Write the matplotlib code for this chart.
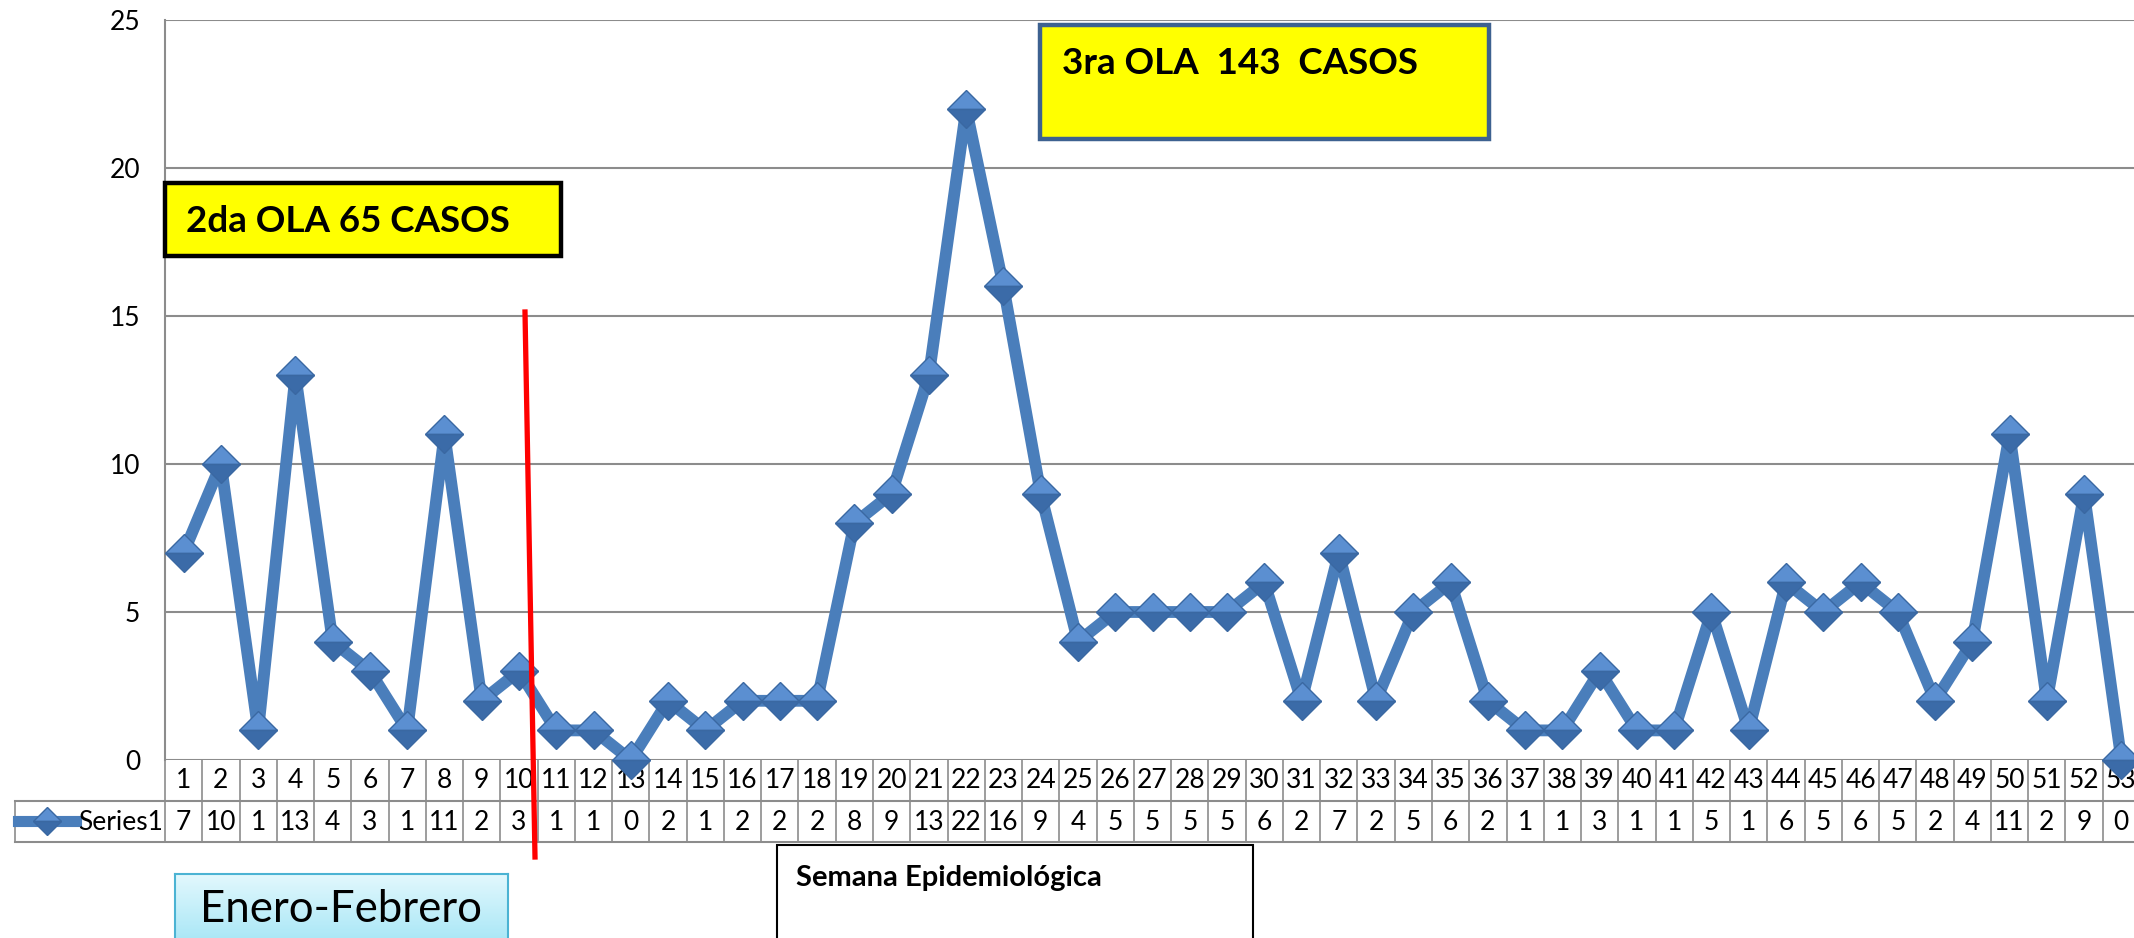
"""
Casos por semana epidemiológica - recreación del gráfico de Excel
"""

import numpy as np
import matplotlib.pyplot as plt
import matplotlib.transforms as mtransforms
from matplotlib.colors import LinearSegmentedColormap
from matplotlib.lines import Line2D
from matplotlib.patches import Rectangle

plt.rcParams['font.family'] = ['Lato', 'DejaVu Sans']

# datos
semanas = list(range(1, 54))
casos = [7, 10, 1, 13, 4, 3, 1, 11, 2, 3, 1, 1, 0, 2, 1, 2, 2, 2, 8, 9, 13, 22, 16, 9,
         4, 5, 5, 5, 5, 6, 2, 7, 2, 5, 6, 2, 1, 1, 3, 1, 1, 5, 1, 6, 5, 6, 5, 2, 4, 11,
         2, 9, 0]
y_ticks = [0, 5, 10, 15, 20, 25]
serie = 'Series1'
ola2 = '2da OLA 65 CASOS'
ola3 = '3ra OLA  143  CASOS'
eje_x = 'Semana Epidemiológica'
periodo = 'Enero-Febrero'

AZUL = '#4a7ebb'
GRIS = '#8c8c8c'

W, H = 2134, 938
fig = plt.figure(figsize=(W / 100, H / 100), dpi=100)


def fx(px):
    return px / W


def fy(py):
    return 1 - py / H


ax = fig.add_axes([fx(165), fy(760), fx(2140) - fx(165), fy(20) - fy(760)])
ax.set_xlim(0.5, len(semanas) + 0.5)
ax.set_ylim(0, 25)
ax.set_yticks(y_ticks)
ax.grid(axis='y', color=GRIS, lw=1.5)
ax.set_axisbelow(True)
for s in ['top', 'right', 'bottom']:
    ax.spines[s].set_visible(False)
ax.spines['left'].set_color(GRIS)
ax.spines['left'].set_linewidth(1.5)
ax.tick_params(axis='y', length=0, pad=18, labelsize=19)
ax.tick_params(axis='x', bottom=False, labelbottom=False)

# serie principal
ax.plot(semanas, casos, color=AZUL, lw=8.5, marker='D', ms=19,
        fillstyle='top', mfc='#5b8fd1', mfcalt='#3b6ba8', mec='#3a68a2', mew=1,
        clip_on=False, zorder=5)

# tabla de datos debajo del gráfico
trans = mtransforms.blended_transform_factory(ax.transData, fig.transFigure)
y_top, y_mid, y_bot = fy(760), fy(801), fy(842)
for k in range(len(semanas) + 1):
    ax.add_line(Line2D([k + 0.5, k + 0.5], [y_top, y_bot], transform=trans,
                       color=GRIS, lw=1.2, clip_on=False, zorder=1))
for yy in [y_mid, y_bot]:
    ax.add_line(Line2D([fx(15), fx(2140)], [yy, yy], transform=fig.transFigure,
                       color=GRIS, lw=1.5, clip_on=False, zorder=1))
ax.add_line(Line2D([fx(15), fx(15)], [y_mid, y_bot], transform=fig.transFigure,
                   color=GRIS, lw=1.2, clip_on=False, zorder=1))
for s, c in zip(semanas, casos):
    ax.text(s, fy(781), str(s), transform=trans, ha='center', va='center',
            fontsize=19, zorder=2)
    ax.text(s, fy(822), str(c), transform=trans, ha='center', va='center',
            fontsize=19, zorder=2)

# clave de la serie
ax.add_line(Line2D([fx(18), fx(76)], [fy(821), fy(821)], transform=fig.transFigure,
                   color=AZUL, lw=8, clip_on=False, zorder=2))
ax.add_line(Line2D([fx(47)], [fy(821)], transform=fig.transFigure, marker='D', ms=14,
                   fillstyle='top', mfc='#5b8fd1', mfcalt='#3b6ba8', mec='#3a68a2',
                   clip_on=False, zorder=3))
ax.text(fx(78), fy(822), serie, transform=fig.transFigure, ha='left', va='center',
        fontsize=19)

# cuadros de texto
fig.add_artist(Rectangle((fx(165), fy(256)), fx(561) - fx(165), fy(183) - fy(256),
                         transform=fig.transFigure, fc='#ffff00', ec='black', lw=3.2,
                         zorder=6))
fig.text(fx(186), fy(221), ola2, fontsize=26.5, fontweight='bold', va='center',
         ha='left', zorder=7)

fig.add_artist(Rectangle((fx(1040), fy(139)), fx(1489) - fx(1040), fy(25) - fy(139),
                         transform=fig.transFigure, fc='#ffff00', ec='#3d6190', lw=3.2,
                         zorder=6))
fig.text(fx(1062), fy(64), ola3, fontsize=26.5, fontweight='bold', va='center',
         ha='left', zorder=7)

fig.add_artist(Rectangle((fx(777), fy(945)), fx(1253) - fx(777), fy(845) - fy(945),
                         transform=fig.transFigure, fc='white', ec='black', lw=1.5,
                         zorder=6))
fig.text(fx(796), fy(878), eje_x, fontsize=21, fontweight='bold', va='center',
         ha='left', zorder=7)

# cuadro celeste con degradado
ax_ef = fig.add_axes([fx(175), fy(945), fx(508) - fx(175), fy(874) - fy(945)],
                     zorder=6)
grad = LinearSegmentedColormap.from_list('celeste', ['#e2f8fd', '#a6e6f6'])
ax_ef.imshow(np.linspace(0, 1, 64).reshape(-1, 1), cmap=grad, aspect='auto',
             extent=[0, 1, 1, 0])
ax_ef.set_xlim(0, 1)
ax_ef.set_ylim(1, 0)
ax_ef.set_xticks([])
ax_ef.set_yticks([])
for sp in ax_ef.spines.values():
    sp.set_color('#4bb3d3')
    sp.set_linewidth(1.5)
ax_ef.text(0.5, 0.5, periodo, transform=ax_ef.transAxes, fontsize=31.5,
           va='center', ha='center')

# línea roja de corte
fig.add_artist(Line2D([fx(525), fx(535)], [fy(312), fy(857)], transform=fig.transFigure,
                      color='#ff0000', lw=3.8, zorder=8))

fig.savefig('out.png', dpi=100)
